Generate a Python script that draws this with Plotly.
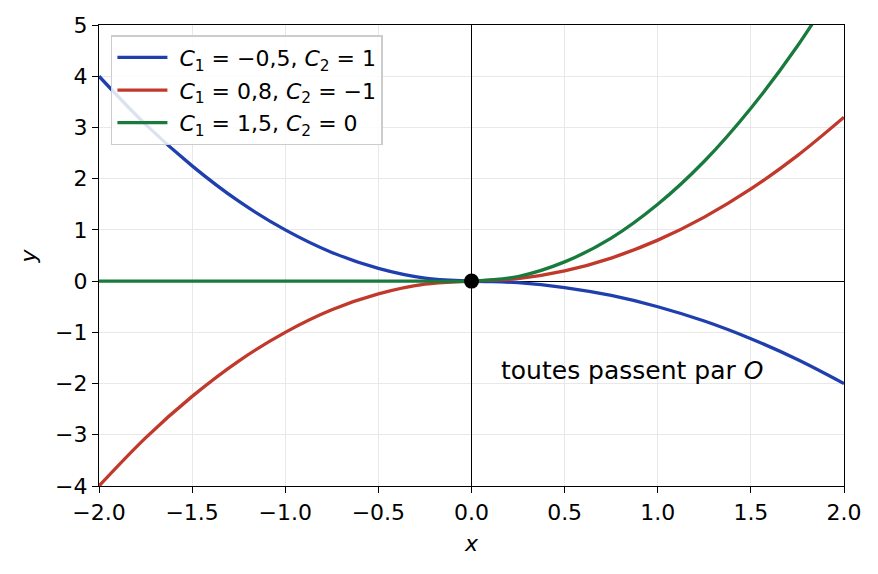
import plotly.graph_objects as go

# sample points (x step 0.25)
x_vals = [-2.0, -1.75, -1.5, -1.25, -1.0, -0.75, -0.5, -0.25, 0.0,
          0.25, 0.5, 0.75, 1.0, 1.25, 1.5, 1.75, 2.0]
y_blue = [4.0, 3.06, 2.25, 1.56, 1.0, 0.56, 0.25, 0.06, 0.0,
          -0.03, -0.125, -0.28, -0.5, -0.78, -1.125, -1.53, -2.0]
y_red = [-4.0, -3.06, -2.25, -1.56, -1.0, -0.56, -0.25, -0.06, 0.0,
         0.05, 0.2, 0.45, 0.8, 1.25, 1.8, 2.45, 3.2]
y_green = [0.0, 0.0, 0.0, 0.0, 0.0, 0.0, 0.0, 0.0, 0.0,
           0.09, 0.375, 0.84, 1.5, 2.34, 3.375, 4.59, 6.0]

series = [
    ("\u00a0<i>C</i><sub>1</sub> = −0,5, <i>C</i><sub>2</sub> = 1", y_blue, "#1f3fae"),
    ("\u00a0<i>C</i><sub>1</sub> = 0,8, <i>C</i><sub>2</sub> = −1", y_red, "#c0392b"),
    ("\u00a0<i>C</i><sub>1</sub> = 1,5, <i>C</i><sub>2</sub> = 0", y_green, "#187a3c"),
]

x_ticks = [-2.0, -1.5, -1.0, -0.5, 0.0, 0.5, 1.0, 1.5, 2.0]
y_ticks = [-4, -3, -2, -1, 0, 1, 2, 3, 4, 5]

FONT = "DejaVu Sans"

fig = go.Figure()

for i, (name, ys, color) in enumerate(series):
    fig.add_trace(go.Scatter(x=x_vals, y=ys, name=name, mode="lines",
                             legendgroup=f"g{i}",
                             line=dict(color=color, width=3.3, shape="spline")))

fig.add_trace(go.Scatter(x=[0], y=[0], mode="markers", showlegend=False,
                         marker=dict(color="black", size=15)))

fig.add_annotation(x=0.15, y=-1.75, text="toutes passent par <i>O</i>",
                   showarrow=False, xanchor="left", yanchor="middle",
                   font=dict(size=25, color="black", family=FONT))

# axis titles
fig.add_annotation(x=0.5, y=-0.125, xref="paper", yref="paper", text="<i>x</i>",
                   showarrow=False, xanchor="center", yanchor="middle",
                   font=dict(size=22, color="black", family=FONT))
fig.add_annotation(x=-0.094, y=0.5, xref="paper", yref="paper", text="<i>y</i>",
                   showarrow=False, xanchor="center", yanchor="middle", textangle=-90,
                   font=dict(size=22, color="black", family=FONT))

axis_common = dict(
    showgrid=True, gridcolor="#e8e8e8", gridwidth=1,
    showline=True, linecolor="black", linewidth=1.3, mirror=True,
    ticks="outside", ticklen=6, tickwidth=1.3, tickcolor="black",
    zeroline=True, zerolinecolor="black", zerolinewidth=1.3,
    automargin=False,
    tickfont=dict(size=22, color="black", family=FONT),
)

fig.update_layout(
    width=878, height=574,
    paper_bgcolor="white", plot_bgcolor="white",
    font=dict(family=FONT, color="black"),
    margin=dict(l=91, r=42, t=17, b=96),
    xaxis=dict(range=[-2, 2], tickvals=x_ticks,
               ticktext=[f"{v:.1f}".replace("-", "−") for v in x_ticks],
               **axis_common),
    yaxis=dict(range=[-4, 5], tickvals=y_ticks,
               ticktext=[str(v).replace("-", "−") for v in y_ticks],
               **axis_common),
    legend=dict(x=0.016, y=0.978, xanchor="left", yanchor="top",
                bgcolor="rgba(255,255,255,0.85)", bordercolor="#cccccc",
                borderwidth=1.5, font=dict(size=22, family=FONT),
                traceorder="grouped", itemwidth=50, tracegroupgap=1),
)

fig.write_html("out.html")
